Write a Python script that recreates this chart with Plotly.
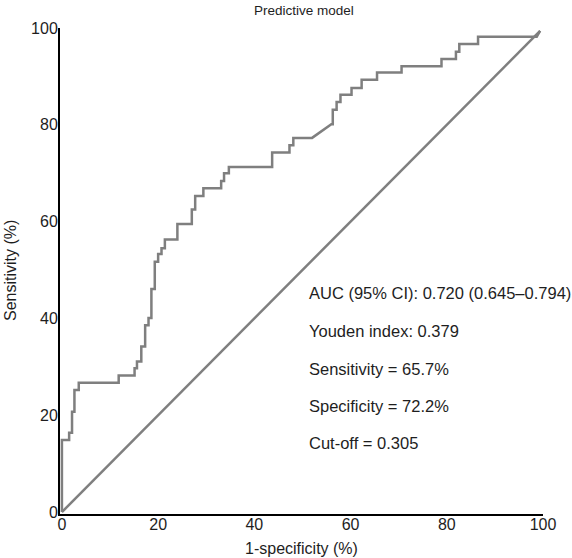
import plotly.graph_objects as go

# ROC curve vertices (1-specificity %, sensitivity %)
fpr = [0, 0, 1.5, 1.5, 2.1, 2.1, 2.6, 2.6, 3.5, 3.5, 11.8, 11.8, 15.1, 15.1, 15.6, 15.6,
       16.5, 16.5, 17.3, 17.3, 18.0, 18.0, 18.6, 18.6, 19.3, 19.3, 20.0, 20.0, 20.7, 20.7,
       21.4, 21.4, 24.0, 24.0, 27.0, 27.0, 27.7, 27.7, 29.4, 29.4, 33.1, 33.1, 33.7, 33.7,
       34.7, 34.7, 43.7, 43.7, 47.3, 47.3, 48.1, 48.1, 52.0, 56.0, 56.3, 56.3, 57.1, 57.1,
       57.9, 57.9, 60.2, 60.2, 62.3, 62.3, 65.5, 65.5, 70.6, 70.6, 78.9, 78.9, 81.9, 81.9,
       82.6, 82.6, 86.5, 86.5, 98.7, 99.4]
tpr = [0, 14.9, 14.9, 16.4, 16.4, 20.7, 20.7, 25.2, 25.2, 26.7, 26.7, 28.2, 28.2, 29.7, 29.7, 31.1,
       31.1, 34.2, 34.2, 38.6, 38.6, 40.1, 40.1, 46.1, 46.1, 51.7, 51.7, 53.3, 53.3, 54.5,
       54.5, 56.3, 56.3, 59.5, 59.5, 62.5, 62.5, 65.3, 65.3, 66.9, 66.9, 68.4, 68.4, 70.0,
       70.0, 71.3, 71.3, 74.3, 74.3, 75.8, 75.8, 77.3, 77.3, 80.1, 80.1, 83.1, 83.1, 84.7,
       84.7, 86.2, 86.2, 87.6, 87.6, 89.3, 89.3, 90.8, 90.8, 92.1, 92.1, 93.6, 93.6, 95.1,
       95.1, 96.7, 96.7, 98.2, 98.2, 99.4]

ref_x = [0, 99.4]
ref_y = [0, 99.4]

tick_vals = [0, 20, 40, 60, 80, 100]
tick_text = ["0", "20", "40", "60", "80", "100"]

stats_lines = [
    "AUC (95% CI): 0.720 (0.645\u20130.794)",
    "Youden index: 0.379",
    "Sensitivity = 65.7%",
    "Specificity = 72.2%",
    "Cut-off = 0.305",
]
stats_y = [45.2, 37.4, 29.6, 21.9, 14.3]

GRAY = "#7f7f7f"
TXT = "#1e1e1e"
FONT = "Arial, Liberation Sans, sans-serif"

fig = go.Figure()
fig.add_trace(go.Scatter(x=ref_x, y=ref_y, mode="lines",
                         line=dict(color=GRAY, width=2.5), hoverinfo="skip"))
fig.add_trace(go.Scatter(x=fpr, y=tpr, mode="lines",
                         line=dict(color=GRAY, width=2.5)))

for txt, yy in zip(stats_lines, stats_y):
    fig.add_annotation(x=50.9, y=yy, text=txt, showarrow=False, xanchor="left",
                       yanchor="middle", font=dict(family=FONT, size=16.5, color=TXT))

# titles as paper annotations
fig.add_annotation(x=0.5, y=1, xref="paper", yref="paper", yshift=18, xshift=2,
                   text="Predictive model",
                   showarrow=False, xanchor="center", yanchor="middle",
                   font=dict(family=FONT, size=13.5, color=TXT))
fig.add_annotation(x=0.5, y=0, xref="paper", yref="paper", yshift=-34, text="1-specificity (%)",
                   showarrow=False, xanchor="center", yanchor="middle",
                   font=dict(family=FONT, size=16, color=TXT))
fig.add_annotation(x=0, y=0.5, xref="paper", yref="paper", xshift=-50, text="Sensitivity (%)",
                   textangle=-90, showarrow=False, xanchor="center", yanchor="middle",
                   font=dict(family=FONT, size=16, color=TXT))

fig.update_layout(
    width=572, height=558,
    margin=dict(l=60, r=29, t=28, b=44, autoexpand=False),
    paper_bgcolor="white", plot_bgcolor="white",
    showlegend=False,
    font=dict(family=FONT, size=16, color=TXT),
)
fig.update_xaxes(range=[-0.4, 100], tickvals=tick_vals, ticktext=tick_text,
                 showgrid=False, zeroline=False, showline=True, linecolor="black",
                 linewidth=2, ticks="", layer="below traces", automargin=False,
                 ticklabelstandoff=-5,
                 tickfont=dict(family=FONT, size=16, color=TXT))
fig.update_yaxes(range=[-0.4, 100], tickvals=tick_vals, ticktext=tick_text,
                 showgrid=False, zeroline=False, showline=True, linecolor="black",
                 linewidth=2, ticks="", layer="below traces", automargin=False,
                 ticklabelstandoff=-3,
                 tickfont=dict(family=FONT, size=16, color=TXT))

fig.write_html("out.html", config={"displayModeBar": False},
               post_script="document.body.style.margin='0px';document.body.style.overflow='hidden';")
